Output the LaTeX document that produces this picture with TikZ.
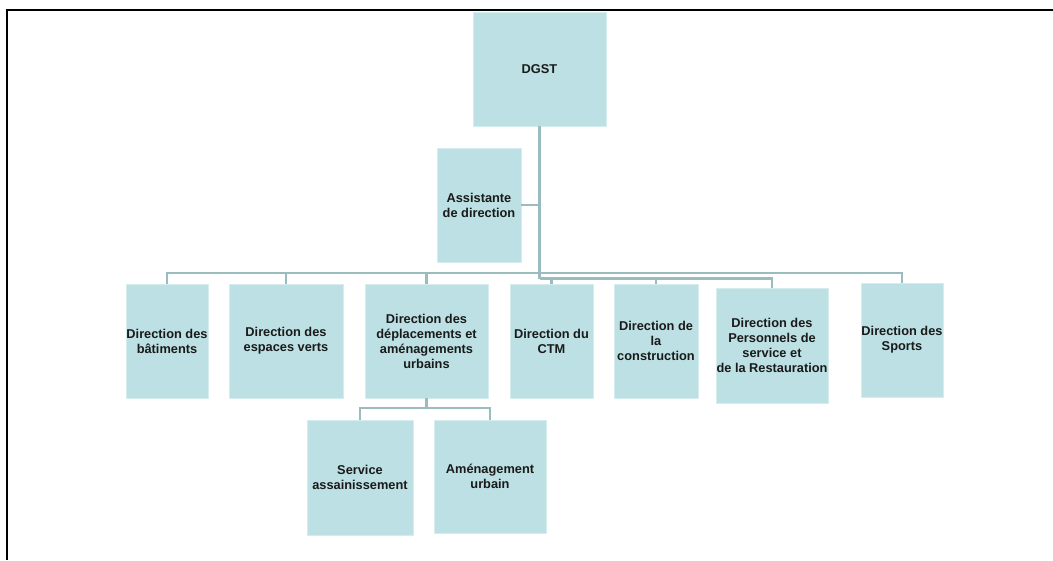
\documentclass[tikz,border=0pt]{standalone}
\usepackage{fontspec}
\setmainfont{Liberation Sans}
\definecolor{boxfill}{HTML}{BCE0E3}
\definecolor{boxedge}{HTML}{D6EDEF}
\definecolor{conncol}{HTML}{9BBCBE}
\definecolor{txt}{HTML}{1A1A1A}
\tikzset{
  orgbox/.style={fill=boxfill, draw=boxedge, line width=0.8pt, inner sep=0pt,
    align=center, text=txt, font=\bfseries\fontsize{12.8}{15}\selectfont},
  conn/.style={draw=conncol, line width=2.6pt},
  frame/.style={draw=black, line width=2pt}
}
\begin{document}
\begin{tikzpicture}[x=1pt,y=-1pt]
\useasboundingbox (0,0) rectangle (1053,560);
% frame
\coordinate (fTL) at (7,10);
\coordinate (fTR) at (1053,10);
\coordinate (fBL) at (7,560);
\draw[frame] (fTR) -- (fTL) -- (fBL);

% nodes
\node[orgbox, minimum width=133pt, minimum height=114pt] (dgst) at (539.5,69) {DGST};
\node[orgbox, minimum width=84pt, minimum height=114pt] (assist) at (479,205) {Assistante\\de direction};
\node[orgbox, minimum width=82pt, minimum height=114pt] (bat) at (167,341) {Direction des\\bâtiments};
\node[orgbox, minimum width=114pt, minimum height=114pt] (esp) at (286,341) {Direction des\\espaces verts};
\node[orgbox, minimum width=123pt, minimum height=114pt] (dep) at (426.5,341) {Direction des\\déplacements et\\aménagements\\urbains};
\node[orgbox, minimum width=83pt, minimum height=114pt] (ctm) at (551.5,341) {Direction du\\CTM};
\node[orgbox, minimum width=84pt, minimum height=114pt] (cons) at (656,341) {Direction de\\la\\construction};
\node[orgbox, minimum width=112pt, minimum height=115pt] (pers) at (772,345.5) {Direction des\\Personnels de\\service et\\de la Restauration};
\node[orgbox, minimum width=82pt, minimum height=114pt] (sports) at (902,340) {Direction des\\Sports};
\node[orgbox, minimum width=106pt, minimum height=115pt] (serv) at (360,477.5) {Service\\assainissement};
\node[orgbox, minimum width=112pt, minimum height=113pt] (amen) at (490,476.5) {Aménagement\\urbain};

% bus levels
\coordinate (busA) at (0,273);
\coordinate (busB) at (0,278.5);
\coordinate (busS) at (0,408);

% main trunk
\draw[conn] (dgst.south) -- (dgst.south |- busB);
% assistant
\draw[conn] (assist.east) -- (assist.east -| dgst.south);
% upper bus
\draw[conn] (bat.north) -- (bat.north |- busA) -- (sports.north |- busA) -- (sports.north);
\draw[conn] (esp.north) -- (esp.north |- busA);
\draw[conn] (dep.north) -- (dep.north |- busA);
% lower bus
\draw[conn] (dgst.south |- busB) -- (pers.north |- busB) -- (pers.north);
\draw[conn] (ctm.north) -- (ctm.north |- busB);
\draw[conn] (cons.north) -- (cons.north |- busB);
% sub tree
\draw[conn] (dep.south) -- (dep.south |- busS);
\draw[conn] (serv.north) -- (serv.north |- busS) -- (amen.north |- busS) -- (amen.north);
\end{tikzpicture}
\end{document}
